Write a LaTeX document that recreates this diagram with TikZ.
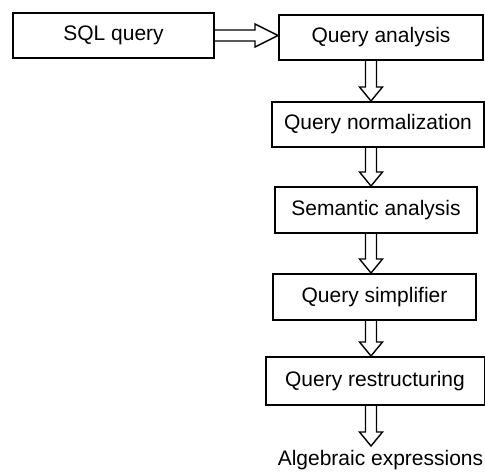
\documentclass[tikz,border=0pt]{standalone}
\usepackage{fontspec}
\setmainfont{Liberation Sans}
\usetikzlibrary{positioning,calc}

% hollow block arrow: start, end, head length
\newcommand{\fatarrow}[3]{%
  \draw[fat] ($(#1)!2.75pt!90:(#2)$) -- ($(#2)!#3!(#1)!2.75pt!-90:(#1)$)
    -- ($(#2)!#3!(#1)!5.75pt!-90:(#1)$) -- (#2)
    -- ($(#2)!#3!(#1)!5.75pt!90:(#1)$) -- ($(#2)!#3!(#1)!2.75pt!90:(#1)$)
    -- ($(#1)!2.75pt!-90:(#2)$);}

\begin{document}
\begin{tikzpicture}[x=0.5pt,y=-0.5pt,
    box/.style={draw,line width=1pt,inner sep=0pt,minimum height=22.5pt,
      font=\fontsize{10.5}{12}\selectfont},
    fat/.style={line width=0.7pt,line join=miter}]
    \useasboundingbox (0,0) rectangle (485,471);
    \node[box,minimum width=100.5pt] (sql) at (113.5,35.5) {SQL query};
    \node[box,minimum width=102pt] (qa) at (381,37.5) {Query analysis};
    \node[box,minimum width=106pt] (qn) at (378,124.5) {Query normalization};
    \node[box,minimum width=101pt,minimum height=23pt] (sa) at (376,210) {Semantic analysis};
    \node[box,minimum width=101.5pt,minimum height=23pt] (qs) at (374.5,297) {Query simplifier};
    \node[box,minimum width=109.5pt,minimum height=24pt] (qr) at (375,381) {Query restructuring};
    \node[anchor=north,inner sep=2pt,font=\fontsize{10.5}{12}\selectfont] (alg) at (380.5,446) {Algebraic expressions};
    \coordinate (axis) at (371,0);
    \fatarrow{sql.east}{qa.west |- sql.east}{11.5pt}
    \foreach \a/\b in {qa/qn, qn/sa, sa/qs, qs/qr, qr/alg} {
      \fatarrow{\a.south -| axis}{\b.north -| axis}{7pt}
    }
  \end{tikzpicture}
\end{document}
